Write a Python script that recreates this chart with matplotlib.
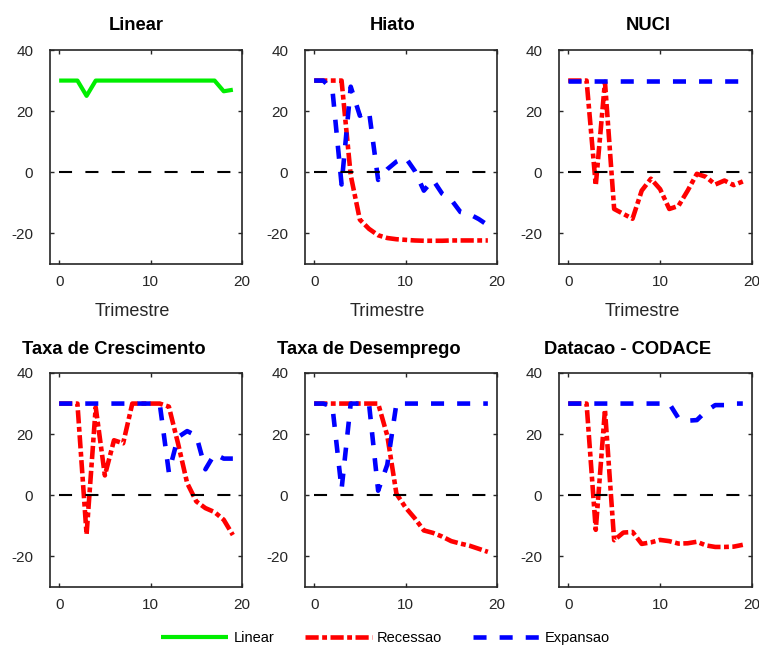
import numpy as np
import matplotlib as mpl
mpl.use('Agg')
import matplotlib.pyplot as plt

plt.rcParams['font.family'] = ['Liberation Sans', 'DejaVu Sans']
plt.rcParams['lines.scale_dashes'] = False
plt.rcParams['axes.unicode_minus'] = False

# Data
trimestre = np.arange(20)

linear = [30, 30, 30, 25, 30, 30, 30, 30, 30, 30, 30, 30, 30, 30, 30, 30, 30, 30, 26.5, 27]

hiato_rec = [30, 30, 30, 30, -1, -15.5, -18.5, -20.6, -21.5, -21.9, -22.1, -22.3, -22.4, -22.4,
             -22.4, -22.3, -22.3, -22.3, -22.3, -22.3]
hiato_exp = [30, 30, 27, -4, 28, 18.5, 20, -2.5, 1, 3.5, 4.8, 0.5, -6, -2.5, -7, -9, -13,
             -13.7, -15.3, -17.3]

nuci_rec = [30, 30, 30, -4.3, 29.6, -12, -13.6, -15.2, -6, -2.1, -5.5, -12, -11, -6, -0.5,
            -1.5, -4, -2.7, -4.2, -3]
nuci_exp = [30, 30, 30, 30, 30, 30, 30, 30, 30, 30, 30, 30, 30, 30, 30, 30, 30, 30, 30, 30]

cresc_rec = [30, 30, 30, -12.8, 28.8, 6.5, 18, 17, 30, 30, 30, 30, 29, 17, 4, -2, -4.2, -5.5,
             -8, -13]
cresc_exp = [30, 30, 30, 30, 30, 30, 30, 30, 30, 30, 30, 30, 7.5, 19, 21, 19.5, 8.5, 13.5, 12, 12]

desemp_rec = [30, 30, 30, 30, 30, 30, 30, 30, 19.5, 0.5, -4, -7.5, -11.5, -12.3, -13.5, -15,
              -15.8, -16.5, -17.5, -18.5]
desemp_exp = [30, 30, 29, 2, 30, 30, 30, 1.5, 10, 30, 30, 30, 30, 30, 30, 30, 30, 30, 30, 30]

datacao_rec = [30, 30, 30, -11.3, 28, -14.7, -12.2, -12, -15.9, -15.4, -14.6, -15, -15.8, -15.7,
               -15.2, -16.4, -16.9, -16.9, -16.8, -16.2]
datacao_exp = [30, 30, 30, 30, 30, 30, 30, 30, 30, 30, 30, 30, 25.2, 24.4, 24.6, 27.5, 29.5,
               29.5, 30, 30]

titles = ['Linear', 'Hiato', 'NUCI', 'Taxa de Crescimento', 'Taxa de Desemprego',
          'Datacao - CODACE']
recessao = [None, hiato_rec, nuci_rec, cresc_rec, desemp_rec, datacao_rec]
expansao = [None, hiato_exp, nuci_exp, cresc_exp, desemp_exp, datacao_exp]

# Layout (pixels in a 759x648 figure)
W, H = 759, 648
col_left = [50, 305, 559]
col_width = [192, 192, 193]
row_top = [50, 373]
ax_h = 214
title_x = [0.45, 0.456, 0.463, 0.333, 0.333, 0.355]

gray = '#262626'
red_dash = (0, (9.5, 2.5, 3.5, 2.5))
blue_dash = (0, (9.4, 9.4))
black_dash = (0, (9.4, 9.6))

fig = plt.figure(figsize=(W / 100, H / 100), dpi=100)

handles = {}
for i in range(6):
    r, c = divmod(i, 3)
    ax = fig.add_axes([col_left[c] / W, 1 - (row_top[r] + ax_h) / H,
                       col_width[c] / W, ax_h / H])
    if i == 0:
        handles['Linear'], = ax.plot(trimestre, linear, color='#00ee00', lw=3.0,
                                     solid_capstyle='butt')
    else:
        handles['Recessao'], = ax.plot(trimestre, recessao[i], color='red', lw=3.3,
                                       linestyle=red_dash)
        handles['Expansao'], = ax.plot(trimestre, expansao[i], color='blue', lw=3.3,
                                       linestyle=blue_dash)
    ax.plot(trimestre, np.zeros(len(trimestre)), color='black', lw=1.5, linestyle=black_dash)

    ax.set_xlim(-1, 20)
    ax.set_ylim(-30, 40)
    ax.set_xticks([0, 10, 20])
    ax.set_yticks([-20, 0, 20, 40])
    ax.tick_params(direction='in', top=True, right=True, length=2.8, width=1,
                   colors=gray, labelsize=11)
    ax.tick_params(axis='y', pad=12)
    ax.tick_params(axis='x', pad=8)
    for s in ax.spines.values():
        s.set_color(gray)
        s.set_linewidth(1.2)

    ax.set_title(titles[i], x=title_x[i], fontsize=13.2, fontweight='bold',
                 pad=14.4 if r == 0 else 13.7)
    if r == 0:
        ax.set_xlabel('Trimestre', fontsize=13, color=gray)
        ax.xaxis.set_label_coords(0.43, -0.182)

fig.legend([handles['Linear'], handles['Recessao'], handles['Expansao']],
           ['Linear', 'Recessao', 'Expansao'], loc='center', bbox_to_anchor=(0.508, 0.016),
           ncol=3, frameon=False, fontsize=10.5, handlelength=4.6, handletextpad=0.35,
           columnspacing=2.1, borderpad=0)

fig.savefig('out.png', dpi=100)
